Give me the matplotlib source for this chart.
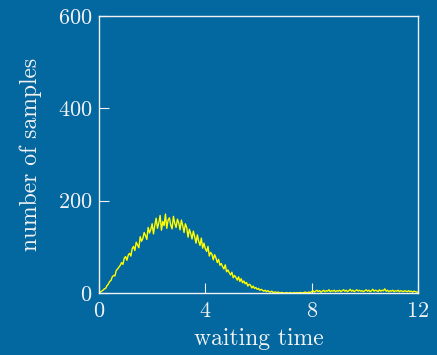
import numpy as np
import matplotlib
matplotlib.use("Agg")
import matplotlib.pyplot as plt

# bin centres of the waiting-time histogram (0.05 wide)
waiting_time = np.linspace(0, 12, 241)
samples = [
    0, 2, 4, 6, 9, 10, 16, 19, 25, 27, 35, 38, 37, 49, 52, 56, 60, 66, 62, 75,
    79, 71, 82, 86, 80, 96, 101, 92, 110, 104, 98, 122, 112, 118, 131, 124, 116, 142, 130, 138,
    150, 128, 147, 162, 140, 152, 168, 136, 155, 146, 171, 140, 158, 163, 147, 139, 166, 151, 142, 160,
    152, 137, 158, 146, 131, 150, 142, 121, 138, 129, 117, 134, 122, 108, 126, 112, 103, 119, 97, 108,
    96, 90, 101, 80, 88, 84, 72, 83, 76, 66, 73, 60, 64, 57, 52, 61, 46, 50, 44, 39,
    45, 33, 38, 34, 28, 35, 25, 31, 22, 26, 20, 23, 15, 19, 17, 11, 15, 10, 12, 8,
    10, 6, 8, 6, 4, 6, 3, 5, 3, 2, 4, 1, 2, 2, 1, 2, 0, 1, 1, 0,
    0, 1, 0, 0, 1, 0, 0, 1, 0, 1, 0, 1, 1, 0, 1, 2, 1, 1, 2, 1,
    3, 5, 2, 4, 6, 3, 5, 2, 4, 6, 3, 5, 4, 7, 3, 5, 4, 6, 3, 5,
    4, 6, 3, 5, 7, 4, 6, 3, 5, 8, 4, 6, 3, 5, 7, 4, 6, 4, 5, 3,
    5, 7, 4, 6, 3, 5, 8, 4, 6, 5, 3, 7, 4, 6, 5, 9, 4, 6, 3, 5,
    4, 6, 3, 5, 4, 6, 3, 5, 4, 3, 5, 4, 3, 5, 3, 4, 2, 4, 3, 2,
    2,
]
xticks = [0, 4, 8, 12]
yticks = [0, 200, 400, 600]

bg = '#0367a0'
fg = '#f2f2f2'

plt.rcParams['font.family'] = 'serif'
plt.rcParams['font.serif'] = ['cmr10', 'DejaVu Serif']
plt.rcParams['mathtext.fontset'] = 'cm'
plt.rcParams['axes.formatter.use_mathtext'] = True

fig = plt.figure(figsize=(4.37, 3.55), dpi=100, facecolor=bg)
ax = fig.add_axes([0.2265, 0.1746, 0.73, 0.7804], facecolor=bg)

ax.plot(waiting_time, samples, color='#ffff00', lw=1.0)

ax.set_xlim(0, 12)
ax.set_ylim(0, 600)
ax.set_xticks(xticks)
ax.set_yticks(yticks)
for s in ax.spines.values():
    s.set_color(fg)
    s.set_linewidth(1.0)
ax.tick_params(direction='in', length=7, width=0.8, color=fg, labelcolor=fg,
               labelsize=16)
ax.tick_params(axis='x', pad=6)
ax.tick_params(axis='y', pad=5)
ax.set_xlabel('waiting time', color=fg, fontsize=17, labelpad=5)
ax.set_ylabel('number of samples', color=fg, fontsize=17, labelpad=11)

fig.savefig('out.png', dpi=100, facecolor=bg)
